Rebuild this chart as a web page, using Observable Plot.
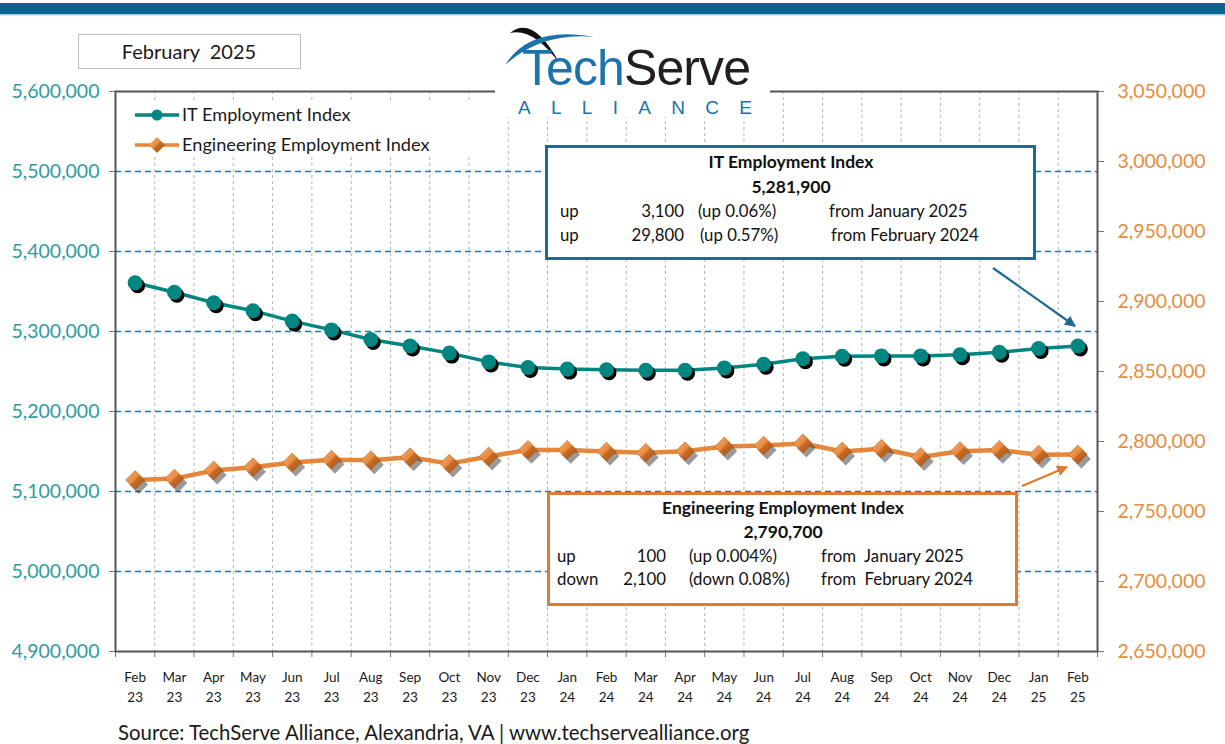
<!DOCTYPE html>
<html>
<head>
<meta charset="utf-8">
<script src="https://cdn.jsdelivr.net/npm/d3@7"></script>
<script src="https://cdn.jsdelivr.net/npm/@observablehq/plot@0.6"></script>
<style>
  html, body { margin: 0; padding: 0; background: #fff; }
  #wrap { position: relative; width: 1225px; height: 744px; overflow: hidden; background: #fff; font-family: Lato, "Open Sans", sans-serif; }
  #wrap > svg { position: absolute; left: 0; top: 0; }
  #overlay { pointer-events: none; }
  #overlay text { white-space: pre; }
</style>
</head>
<body>
<div id="wrap"></div>
<script>
// ---------------- data ----------------
const months = ["Feb 23","Mar 23","Apr 23","May 23","Jun 23","Jul 23","Aug 23","Sep 23","Oct 23","Nov 23","Dec 23",
  "Jan 24","Feb 24","Mar 24","Apr 24","May 24","Jun 24","Jul 24","Aug 24","Sep 24","Oct 24","Nov 24","Dec 24",
  "Jan 25","Feb 25"];
const itIndex = [5361000,5349000,5336000,5326000,5313000,5302000,5290000,5282000,5273000,5262000,5255000,
  5253000,5252100,5251500,5251500,5254500,5259000,5266000,5269000,5269500,5269500,5271000,5274000,
  5278800,5281900];
const engIndex = [2772500,2773500,2779300,2781600,2785000,2787000,2786600,2788800,2784200,2789300,2794000,
  2794000,2792800,2792000,2793000,2796400,2797100,2798600,2792900,2794800,2788900,2793100,2794000,
  2790600,2790700];
const leftTicks = [4900000,5000000,5100000,5200000,5300000,5400000,5500000,5600000];
const rightTicks = [2650000,2700000,2750000,2800000,2850000,2900000,2950000,3000000,3050000];
const seriesNames = ["IT Employment Index","Engineering Employment Index"];

// ---------------- scales ----------------
const L0 = leftTicks[0], L1 = leftTicks[leftTicks.length-1];
const R0 = rightTicks[0], R1 = rightTicks[rightTicks.length-1];
const k = (L1 - L0) / (R1 - R0);
const toLeft = v => L0 + (v - R0) * k;
const fromLeft = v => R0 + (v - L0) / k;
const fmt = d3.format(",");

const data = months.map((m, i) => ({i, m, it: itIndex[i], eng: toLeft(engIndex[i])}));
const centers = d3.range(months.length);
const bounds = d3.range(months.length + 1).map(i => i - 0.5);

const TEAL = "#008680", ORANGE = "#e6863a";

const chart = Plot.plot({
  width: 1225, height: 744,
  marginTop: 91, marginBottom: 93, marginLeft: 115, marginRight: 128,
  x: {domain: [-0.5, months.length - 0.5]},
  y: {domain: [L0, L1]},
  style: {fontFamily: "Lato, 'Open Sans', sans-serif", background: "transparent", overflow: "visible"},
  marks: [
    Plot.ruleX(bounds.slice(1, -1), {stroke: "#b4b4b4", strokeDasharray: "3,3", strokeWidth: 1}),
    Plot.ruleY(leftTicks.slice(1, -1), {stroke: "#1f78aa", strokeDasharray: "6,4", strokeWidth: 1.3}),
    Plot.axisY({ticks: leftTicks, tickFormat: fmt, tickSize: 6, tickPadding: 10, fontSize: 19.5,
      fill: "#2f9c9c", stroke: "#777", label: null}),
    Plot.axisY({anchor: "right", ticks: rightTicks.map(toLeft), tickFormat: d => fmt(Math.round(fromLeft(d))),
      tickSize: 6, tickPadding: 14, fontSize: 19.5, fill: "#e58c40", stroke: "#777", label: null}),
    Plot.axisX({ticks: bounds, tickSize: 6, tickFormat: () => "", stroke: "#777", label: null}),
    Plot.axisX({ticks: centers, tickSize: 0, tickPadding: 17, tickFormat: i => months[i].replace(" ", "\n"),
      fontSize: 13.5, lineHeight: 1.45, fill: "#1a1a1a", label: null}),
    Plot.frame({stroke: "#555", strokeWidth: 2}),
    // IT series
    Plot.line(data, {x: "i", y: "it", stroke: TEAL, strokeWidth: 3.5}),
    Plot.dot(data, {x: "i", y: "it", r: 7.5, fill: "#000", dx: 2.5, dy: 3}),
    Plot.dot(data, {x: "i", y: "it", r: 7.5, fill: TEAL}),
    // Engineering series
    Plot.line(data, {x: "i", y: "eng", stroke: ORANGE, strokeWidth: 4.5}),
    Plot.dot(data, {x: "i", y: "eng", symbol: "diamond2", r: 8.5, fill: "#333", fillOpacity: 0.5, dx: 3.5, dy: 4.5}),
    Plot.dot(data, {x: "i", y: "eng", symbol: "diamond2", r: 8.5, fill: "url(#engGrad)", stroke: "#b45f1e", strokeWidth: 0.6})
  ]
});
document.getElementById("wrap").appendChild(chart);

// ---------------- overlay (header, logo, legend, notes, source) ----------------
const ov = `
<svg id="overlay" width="1225" height="744" xmlns="http://www.w3.org/2000/svg" font-family="Lato, 'Open Sans', sans-serif">
  <defs>
    <linearGradient id="engGrad" x1="0" y1="0" x2="1" y2="1">
      <stop offset="0" stop-color="#f7b071"/>
      <stop offset="0.48" stop-color="#e8893d"/>
      <stop offset="0.52" stop-color="#c96c26"/>
      <stop offset="1" stop-color="#9c5018"/>
    </linearGradient>
    <marker id="arrBlue" viewBox="0 0 10 10" refX="9" refY="5" markerWidth="5" markerHeight="5" orient="auto">
      <path d="M0,0 L10,5 L0,10 Z" fill="#1a6c92"/>
    </marker>
    <marker id="arrOrange" viewBox="0 0 10 10" refX="9" refY="5" markerWidth="5" markerHeight="5" orient="auto">
      <path d="M0,0 L10,5 L0,10 Z" fill="#e07b30"/>
    </marker>
  </defs>
  <rect x="0" y="3" width="1225" height="11" fill="#0b6490"/>
  <rect x="0" y="14" width="1225" height="1.5" fill="#a9cbe0"/>

  <rect x="78.5" y="34.5" width="222" height="34" fill="#fff" stroke="#bdbdbd" stroke-width="1"/>
  <text x="189" y="58.5" text-anchor="middle" font-size="20" fill="#1a1a1a">February  2025</text>

  <!-- logo -->
  <rect x="495" y="16" width="275" height="101" fill="#fff"/>
  <path d="M510,33 Q533,14 560,64 Q533,27 510,33 Z" fill="#111"/>
  <path d="M505,65 Q530,25 594,37 Q542,32 505,65 Z" fill="#1b73ad"/>
  <text x="522" y="85" font-family="'Liberation Sans', Arial, sans-serif" font-size="50" letter-spacing="-0.9"><tspan fill="#1b73ad">Tech</tspan><tspan fill="#231f20">Serve</tspan></text>
  <text x="518" y="114" font-family="'Liberation Sans', Arial, sans-serif" font-size="19" fill="#1b73ad" textLength="234" lengthAdjust="spacing">ALLIANCE</text>

  <!-- legend -->
  <rect x="117" y="100" width="375" height="57" fill="#fff"/>
  <line x1="135" y1="115" x2="179" y2="115" stroke="${TEAL}" stroke-width="3.5"/>
  <circle cx="157" cy="115" r="5.5" fill="${TEAL}"/>
  <text x="182" y="121" font-size="18.2" fill="#1a1a1a">${seriesNames[0]}</text>
  <line x1="135" y1="145" x2="179" y2="145" stroke="${ORANGE}" stroke-width="3.5"/>
  <path d="M157,137 L165,145 L157,153 L149,145 Z" fill="url(#engGrad)"/>
  <text x="182" y="151" font-size="18.2" fill="#1a1a1a">${seriesNames[1]}</text>

  <!-- IT note -->
  <rect x="546.5" y="146.5" width="488" height="112" fill="#fff" stroke="#1a6c92" stroke-width="3"/>
  <g font-size="16.8" fill="#111">
    <text x="791" y="168" text-anchor="middle" font-weight="bold" font-size="17.5">IT Employment Index</text>
    <text x="791" y="193" text-anchor="middle" font-weight="bold" font-size="17.5">5,281,900</text>
    <text x="560" y="217">up</text>
    <text x="684" y="217" text-anchor="end">3,100</text>
    <text x="698" y="217">(up 0.06%)</text>
    <text x="829" y="217">from January 2025</text>
    <text x="560" y="241">up</text>
    <text x="684" y="241" text-anchor="end">29,800</text>
    <text x="700" y="241">(up 0.57%)</text>
    <text x="831" y="241">from February 2024</text>
  </g>
  <line x1="993" y1="268" x2="1075" y2="326" stroke="#1a6c92" stroke-width="2.2" marker-end="url(#arrBlue)"/>

  <!-- Engineering note -->
  <rect x="548.5" y="493.5" width="468" height="111" fill="#fff" stroke="#e07b30" stroke-width="3"/>
  <g font-size="16.8" fill="#111">
    <text x="783" y="514" text-anchor="middle" font-weight="bold" font-size="17.5">Engineering Employment Index</text>
    <text x="783" y="538" text-anchor="middle" font-weight="bold" font-size="17.5">2,790,700</text>
    <text x="557" y="562">up</text>
    <text x="666" y="562" text-anchor="end">100</text>
    <text x="689" y="562">(up 0.004%)</text>
    <text x="821" y="562">from  January 2025</text>
    <text x="557" y="585">down</text>
    <text x="666" y="585" text-anchor="end">2,100</text>
    <text x="689" y="585">(down 0.08%)</text>
    <text x="821" y="585">from  February 2024</text>
  </g>
  <line x1="1022" y1="486" x2="1067" y2="467" stroke="#e07b30" stroke-width="2.2" marker-end="url(#arrOrange)"/>

  <text x="118" y="740" font-size="20.4" fill="#1a1a1a">Source: TechServe Alliance, Alexandria, VA | www.techservealliance.org</text>
</svg>`;
document.getElementById("wrap").insertAdjacentHTML("beforeend", ov);
</script>
</body>
</html>
